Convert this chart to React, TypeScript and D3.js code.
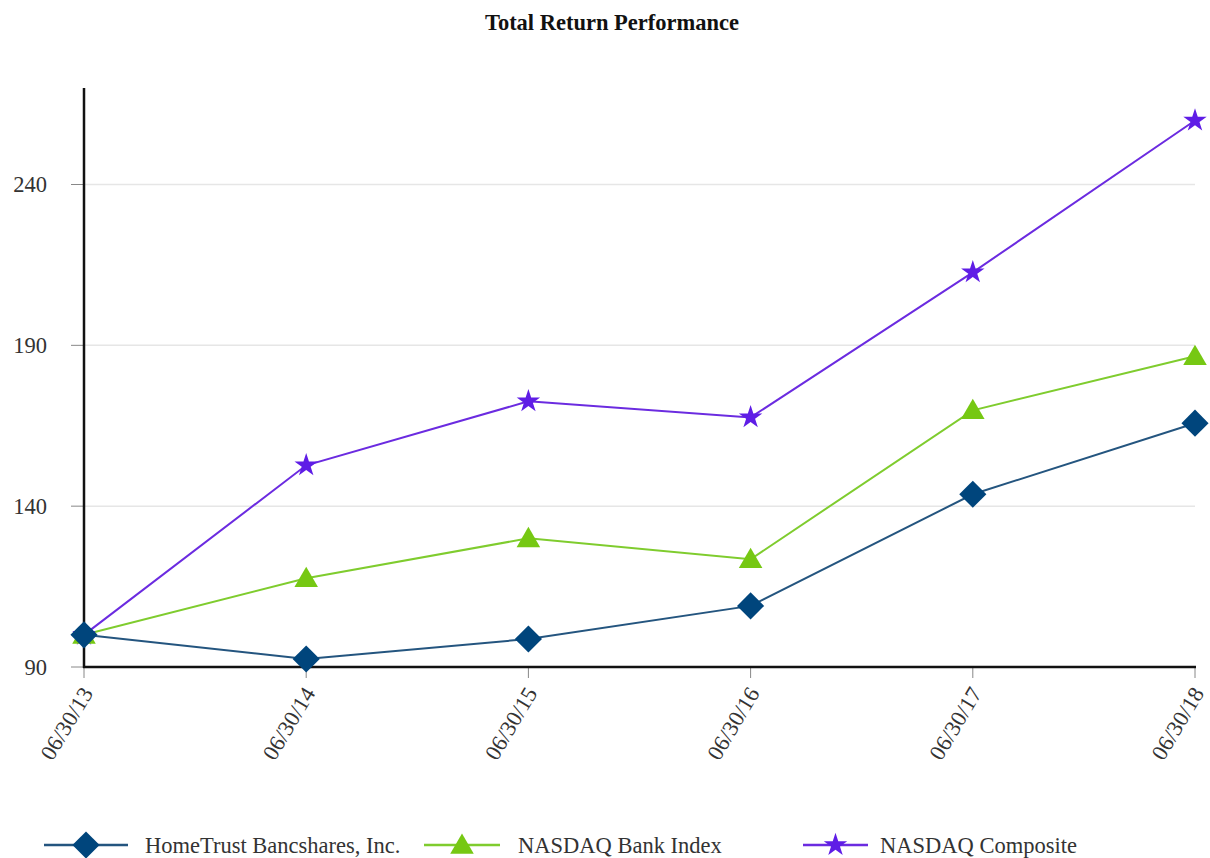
import { useEffect, useRef } from "react";
import * as d3 from "d3";

// ---------------------------------------------------------------------------
// Data
// ---------------------------------------------------------------------------

const dates = ["06/30/13", "06/30/14", "06/30/15", "06/30/16", "06/30/17", "06/30/18"];
const homeTrust = [100, 92.5, 98.7, 109, 143.7, 165.8];
const bankIndex = [100, 117.6, 130, 123.5, 169.8, 186.6];
const composite = [100, 152.7, 172.6, 167.6, 212.7, 259.9];
const yTicks = [90, 140, 190, 240];

const SERIES = [
  { name: "HomeTrust Bancshares, Inc.", values: homeTrust, line: "#24557f", fill: "#00457c", symbol: d3.symbolDiamond2, size: 470 },
  { name: "NASDAQ Bank Index", values: bankIndex, line: "#7fcc2e", fill: "#76c813", symbol: d3.symbolTriangle, size: 240 },
  { name: "NASDAQ Composite", values: composite, line: "#6b2be0", fill: "#5f1de6", symbol: d3.symbolStar, size: 170 },
];

const W = 1210;
const H = 858;
const FONT = "'Liberation Serif', 'Times New Roman', serif";
const FS = 22.5;

export default function App() {
  const svgRef = useRef<SVGSVGElement>(null);

  useEffect(() => {
    const svg = d3.select(svgRef.current);
    svg.selectAll("*").remove();

    const x = d3.scalePoint<string>().domain(dates).range([84, 1195]);
    const y = d3.scaleLinear().domain([90, 270]).range([667, 88]);

    // title
    svg.append("text")
      .attr("x", 612).attr("y", 30)
      .attr("text-anchor", "middle")
      .attr("font-family", FONT).attr("font-weight", "bold").attr("font-size", FS)
      .attr("fill", "#111")
      .text("Total Return Performance");

    // grid
    yTicks.filter((t) => t > 90).forEach((t) => {
      svg.append("line")
        .attr("x1", 84).attr("x2", 1195)
        .attr("y1", y(t)).attr("y2", y(t))
        .attr("stroke", "#e6e6e6").attr("stroke-width", 1.5);
    });

    // y ticks + labels
    yTicks.forEach((t) => {
      svg.append("line")
        .attr("x1", 71).attr("x2", 84)
        .attr("y1", y(t)).attr("y2", y(t))
        .attr("stroke", "#888").attr("stroke-width", 1);
      svg.append("text")
        .attr("x", 47).attr("y", y(t))
        .attr("dy", "0.35em")
        .attr("text-anchor", "end")
        .attr("font-family", FONT).attr("font-size", FS)
        .attr("fill", "#333")
        .text(t);
    });

    // x ticks + labels
    dates.forEach((d) => {
      const px = x(d)!;
      svg.append("line")
        .attr("x1", px).attr("x2", px)
        .attr("y1", 667).attr("y2", 678)
        .attr("stroke", "#888").attr("stroke-width", 1);
      svg.append("text")
        .attr("transform", `translate(${px + 3},${689}) rotate(-59)`)
        .attr("text-anchor", "end")
        .attr("dy", "0.35em")
        .attr("font-family", FONT).attr("font-size", FS)
        .attr("fill", "#333")
        .text(d);
    });

    // axes
    svg.append("line")
      .attr("x1", 84).attr("x2", 84).attr("y1", 88).attr("y2", 668)
      .attr("stroke", "#111").attr("stroke-width", 2.5);
    svg.append("line")
      .attr("x1", 83).attr("x2", 1196).attr("y1", 667).attr("y2", 667)
      .attr("stroke", "#111").attr("stroke-width", 2.5);

    // series
    const line = d3.line<number>()
      .x((_v, i) => x(dates[i])!)
      .y((v) => y(v));

    SERIES.forEach((s) => {
      svg.append("path")
        .attr("d", line(s.values)!)
        .attr("fill", "none")
        .attr("stroke", s.line)
        .attr("stroke-width", 2);
    });

    // markers: drawn in reverse so the diamonds sit on top
    [...SERIES].reverse().forEach((s) => {
      const sym = d3.symbol().type(s.symbol).size(s.size)();
      s.values.forEach((v, i) => {
        svg.append("path")
          .attr("d", sym)
          .attr("transform", `translate(${x(dates[i])},${y(v) + (s.symbol === d3.symbolTriangle ? 2 : 0)})`)
          .attr("fill", s.fill);
      });
    });

    // legend
    const legend = [
      { x1: 44, x2: 128, tx: 145 },
      { x1: 424, x2: 500, tx: 518 },
      { x1: 803, x2: 868, tx: 880 },
    ];
    const ly = 845;
    SERIES.forEach((s, i) => {
      const l = legend[i];
      svg.append("line")
        .attr("x1", l.x1).attr("x2", l.x2).attr("y1", ly).attr("y2", ly)
        .attr("stroke", s.line).attr("stroke-width", 2.5);
      const sym = d3.symbol().type(s.symbol).size(s.size)();
      svg.append("path")
        .attr("d", sym)
        .attr("transform", `translate(${(l.x1 + l.x2) / 2},${ly + (s.symbol === d3.symbolTriangle ? 2 : 0)})`)
        .attr("fill", s.fill);
      svg.append("text")
        .attr("x", l.tx).attr("y", ly)
        .attr("dy", "0.35em")
        .attr("font-family", FONT).attr("font-size", FS)
        .attr("fill", "#333")
        .text(s.name);
    });
  }, []);

  return (
    <svg
      ref={svgRef}
      width={W}
      height={H}
      style={{ position: "absolute", left: 0, top: 0, background: "#fff" }}
    />
  );
}
